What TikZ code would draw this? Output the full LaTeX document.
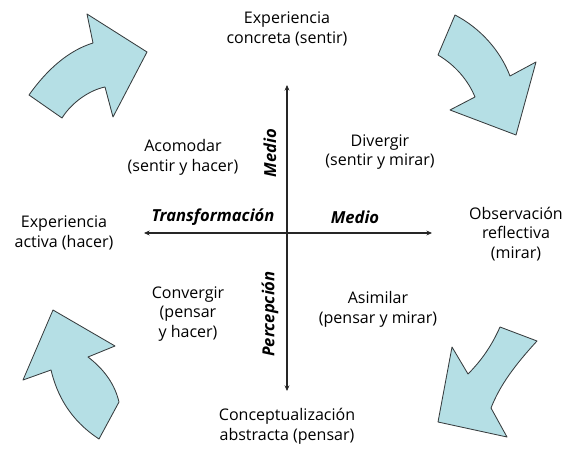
\documentclass[tikz,border=0pt]{standalone}
\usepackage{fontspec}
\setmainfont{Open Sans}
\usepackage{tikz}
\usetikzlibrary{positioning, arrows.meta}

\definecolor{arrowfill}{RGB}{181,223,229}
\definecolor{edgegray}{RGB}{55,60,62}

\begin{document}
\begin{tikzpicture}[x=0.025cm, y=-0.025cm,
  label node/.style={align=center, font=\fontsize{11.4}{14}\selectfont, inner sep=1pt},
  axis label/.style={font=\fontsize{11.8}{14}\selectfont\bfseries\itshape, inner sep=1pt},
  big arrow/.style={fill=arrowfill, draw=edgegray, line width=0.6pt, line join=round},
  axis line/.style={line width=0.9pt, draw=black!85, {Stealth[length=4pt,width=3.5pt]}-{Stealth[length=4pt,width=3.5pt]}}]

\useasboundingbox (0,0) rectangle (571,458);

% curved arrows in the corners
\draw[big arrow] (29,95) .. controls (48,68) and (70,50) .. (93,43) -- (87,14) -- (147,52)
  -- (113,117) -- (105,87) .. controls (90,90) and (72,102) .. (62,118) -- cycle;
\draw[big arrow] (455,15) .. controls (480,28) and (500,50) .. (510,76) -- (536,62) -- (516,135)
  -- (450,110) -- (475,97) .. controls (468,80) and (455,65) .. (438,55) -- cycle;
\draw[big arrow] (537,341) .. controls (515,365) and (500,385) .. (491,408) -- (507,437) -- (438,422)
  -- (452,347) -- (468,374) .. controls (482,360) and (492,345) .. (500,327) -- cycle;
\draw[big arrow] (119,402) .. controls (115,385) and (105,370) .. (88,357) -- (115,346) -- (53,310)
  -- (23,380) -- (51,370) .. controls (57,395) and (70,420) .. (99,439) -- cycle;

% axes
\coordinate (top) at (287,85);
\coordinate (bottom) at (287,391);
\coordinate (left) at (144,233);
\coordinate (right) at (432,233);
\draw[axis line] (bottom) -- (top);
\draw[axis line] (left) -- (right);

% poles
\node[label node] (concreta) at (287,29) {Experiencia\\concreta (sentir)};
\node[label node] (abstracta) at (287,426) {Conceptualización\\abstracta (pensar)};
\node[label node] (activa) at (64,233) {Experiencia\\activa (hacer)};
\node[label node] (reflectiva) at (516,234) {Observación\\reflectiva\\(mirar)};

% quadrants
\node[label node] (acomodar) at (183,157) {Acomodar\\(sentir y hacer)};
\node[label node] (divergir) at (380,152) {Divergir\\(sentir y mirar)};
\node[label node] (convergir) at (188,314) {Convergir\\(pensar\\y hacer)};
\node[label node] (asimilar) at (378,309) {Asimilar\\(pensar y mirar)};

% axis labels
\node[axis label] (transf) at (213,217) {Transformación};
\node[axis label] (medioh) at (355,217) {Medio};
\node[axis label, rotate=90] (mediov) at (270,153) {Medio};
\node[axis label, rotate=90] (percep) at (270,314) {Percepción};

\end{tikzpicture}
\end{document}
